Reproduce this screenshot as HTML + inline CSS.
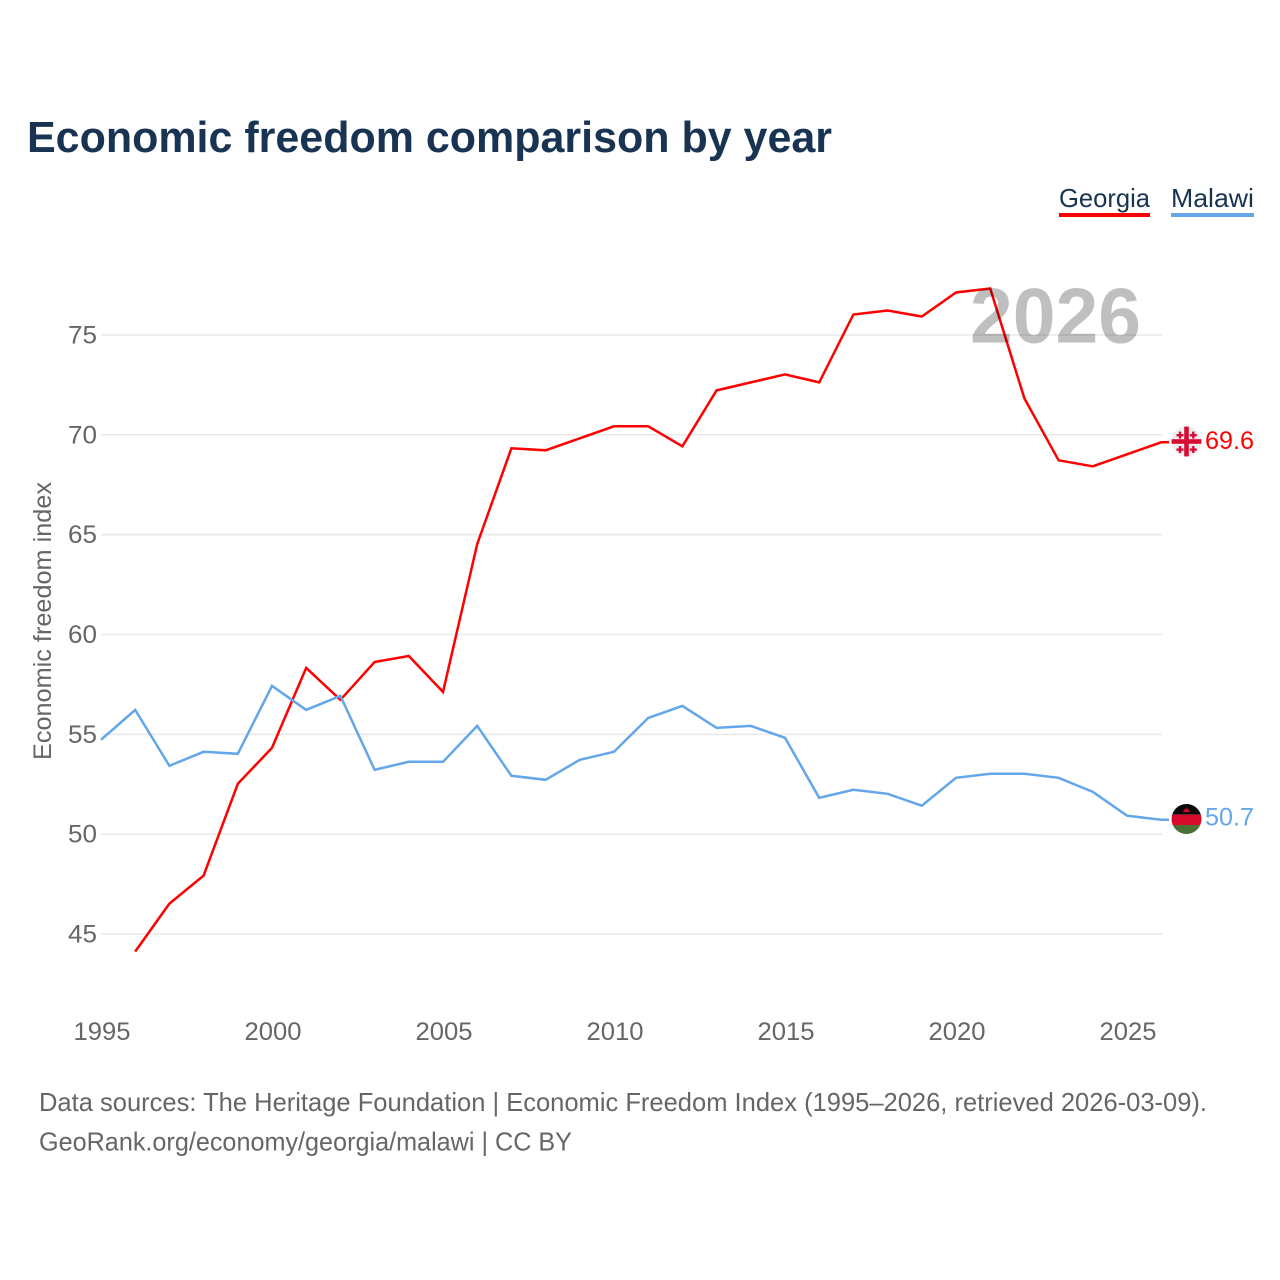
<!DOCTYPE html>
<html lang="en">
<head>
<meta charset="utf-8">
<title>Economic freedom comparison by year</title>
<style>
html,body{margin:0;padding:0;background:#fff;width:1280px;height:1280px;overflow:hidden}
svg{display:block}
text{font-family:"Liberation Sans",sans-serif}
</style>
</head>
<body>
<svg id="chart" xmlns="http://www.w3.org/2000/svg" width="1280" height="1280" viewBox="0 0 1280 1280">
  <rect x="0" y="0" width="1280" height="1280" fill="#fff"/>
  <text x="27" y="152" font-size="44" font-weight="700" fill="#193353" textLength="805" lengthAdjust="spacingAndGlyphs">Economic freedom comparison by year</text>

  <g>
    <g>
      <text x="1059" y="207" font-size="26" fill="#193353" textLength="91" lengthAdjust="spacingAndGlyphs">Georgia</text>
      <rect x="1059" y="213" width="91" height="4" fill="#ff0000"/>
    </g>
    <g>
      <text x="1171" y="207" font-size="26" fill="#193353" textLength="83" lengthAdjust="spacingAndGlyphs">Malawi</text>
      <rect x="1171" y="213" width="83" height="4" fill="#63a6ea"/>
    </g>
  </g>

  <g id="grid"></g>
  <g id="yticks"></g>
  <g id="xticks"></g>
  <text transform="translate(51,621) rotate(-90)" text-anchor="middle" font-size="25" fill="#666" textLength="278" lengthAdjust="spacingAndGlyphs">Economic freedom index</text>

  <g id="series"></g>

  <text x="970" y="342.5" font-size="78" font-weight="700" fill="#000" fill-opacity="0.25" textLength="171" lengthAdjust="spacingAndGlyphs">2026</text>

  <defs>
    <clipPath id="flag-clip-georgia"><circle cx="1186.5" cy="441.5" r="15"/></clipPath>
    <clipPath id="flag-clip-malawi"><circle cx="1186.5" cy="819" r="15"/></clipPath>
  </defs>

  <g clip-path="url(#flag-clip-georgia)">
    <rect x="1171" y="426" width="31" height="31" fill="#eeeeee"/>
    <rect x="1184.2" y="426" width="4.6" height="31" fill="#d80b35"/>
    <rect x="1171" y="439.2" width="31" height="4.6" fill="#d80b35"/>
    <g fill="#d80b35">
      <rect x="1176.5" y="434" width="7" height="2.4"/><rect x="1178.8" y="431.6" width="2.4" height="7"/>
      <rect x="1189.8" y="434" width="7" height="2.4"/><rect x="1192.1" y="431.6" width="2.4" height="7"/>
      <rect x="1176.5" y="448.4" width="7" height="2.4"/><rect x="1178.8" y="446" width="2.4" height="7"/>
      <rect x="1189.8" y="448.4" width="7" height="2.4"/><rect x="1192.1" y="446" width="2.4" height="7"/>
    </g>
  </g>
  <text id="label-georgia" x="1205" y="449" font-size="25" fill="#ff0000" textLength="49" lengthAdjust="spacingAndGlyphs"></text>

  <g clip-path="url(#flag-clip-malawi)">
    <rect x="1171" y="804" width="31" height="10.7" fill="#0a0a0a"/>
    <rect x="1171" y="814.7" width="31" height="10.3" fill="#d80b2c"/>
    <rect x="1171" y="825" width="31" height="10" fill="#4b7033"/>
    <path d="M1182.7 812 L1184.5 809.5 L1185.5 809.5 L1186.5 807 L1187.5 809.5 L1188.5 809.5 L1190.3 812 Z" fill="#d80b2c"/>
  </g>
  <text id="label-malawi" x="1205" y="825.5" font-size="25" fill="#63a6ea" textLength="49" lengthAdjust="spacingAndGlyphs"></text>

  <text x="39" y="1111" font-size="26" fill="#666" textLength="1168" lengthAdjust="spacingAndGlyphs">Data sources: The Heritage Foundation | Economic Freedom Index (1995–2026, retrieved 2026-03-09).</text>
  <text x="39" y="1150.5" font-size="26" fill="#666" textLength="533" lengthAdjust="spacingAndGlyphs">GeoRank.org/economy/georgia/malawi | CC BY</text>
</svg>
<script>
const years = [1995,1996,1997,1998,1999,2000,2001,2002,2003,2004,2005,2006,2007,2008,2009,2010,2011,2012,2013,2014,2015,2016,2017,2018,2019,2020,2021,2022,2023,2024,2025,2026];
const georgiaValues = [null,44.1,46.5,47.9,52.5,54.3,58.3,56.7,58.6,58.9,57.1,64.5,69.3,69.2,69.8,70.4,70.4,69.4,72.2,72.6,73.0,72.6,76.0,76.2,75.9,77.1,77.3,71.8,68.7,68.4,69.0,69.6];
const malawiValues = [54.7,56.2,53.4,54.1,54.0,57.4,56.2,56.9,53.2,53.6,53.6,55.4,52.9,52.7,53.7,54.1,55.8,56.4,55.3,55.4,54.8,51.8,52.2,52.0,51.4,52.8,53.0,53.0,52.8,52.1,50.9,50.7];
const yTickValues = [45,50,55,60,65,70,75];
const xTickValues = [1995,2000,2005,2010,2015,2020,2025];

const NS = 'http://www.w3.org/2000/svg';
const xScale = function (year) { return 101 + (year - 1995) * 34.2; };
const yScale = function (value) { return 834.2 - (value - 50) * 19.97; };
const lineY = function (value) { return yScale(value) - 0.5; };

function make(tag, attrs, parent) {
  const el = document.createElementNS(NS, tag);
  Object.keys(attrs).forEach(function (k) { el.setAttribute(k, attrs[k]); });
  parent.appendChild(el);
  return el;
}

const gridGroup = document.getElementById('grid');
const yTickGroup = document.getElementById('yticks');
yTickValues.forEach(function (v) {
  const line = make('line', { x1: 101, x2: 1162, y1: yScale(v), y2: yScale(v), stroke: '#e9e9e9', 'stroke-width': 1.5 }, gridGroup);
  
  
  const label = make('text', { x: 68, y: yScale(v) + 8.5, 'font-size': 25, fill: '#666', textLength: 29, lengthAdjust: 'spacingAndGlyphs' }, yTickGroup);
  
  
  label.textContent = String(v);
});

const xTickGroup = document.getElementById('xticks');
xTickValues.forEach(function (yr) {
  const label = make('text', { x: xScale(yr) + 1, y: 1040, 'font-size': 25, fill: '#666', 'text-anchor': 'middle', textLength: 57, lengthAdjust: 'spacingAndGlyphs' }, xTickGroup);
  
  
  label.textContent = String(yr);
});

function drawSeries(values, color, name) {
  const group = document.getElementById('series');
  let d = '';
  let last = null;
  values.forEach(function (v, i) {
    if (v === null) return;
    d += (d ? 'L' : 'M') + xScale(years[i]).toFixed(1) + ' ' + lineY(v).toFixed(1);
    last = v;
  });
  d += 'L1169 ' + lineY(last).toFixed(1);
  const path = make('path', { d: d, fill: 'none', stroke: color, 'stroke-width': 2.5, 'stroke-linejoin': 'miter' }, group);
  
  
  return last;
}

const lastGeorgia = drawSeries(georgiaValues, '#ff0000', 'georgia');
const lastMalawi = drawSeries(malawiValues, '#63a6ea', 'malawi');
document.getElementById('label-georgia').textContent = lastGeorgia.toFixed(1);
document.getElementById('label-malawi').textContent = lastMalawi.toFixed(1);
</script>
</body>
</html>
